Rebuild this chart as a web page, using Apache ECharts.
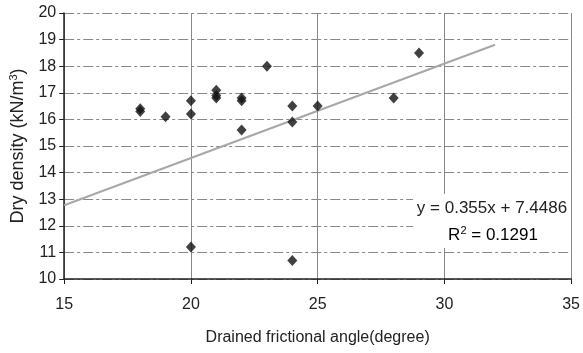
<!DOCTYPE html>
<html>
<head>
<meta charset="utf-8">
<script src="https://cdn.jsdelivr.net/npm/echarts@6/dist/echarts.min.js"></script>
<style>
  html, body { margin: 0; padding: 0; background: #fff; }
  #chart { width: 583px; height: 353px; }
</style>
</head>
<body>
<div id="chart"></div>
<script>
// Drained frictional angle (degree) vs dry density (kN/m3)
const frictionAngle = [18, 18, 19, 20, 20, 20, 21, 21, 21, 22, 22, 22, 23, 24, 24, 24, 25, 28, 29];
const dryDensity   = [16.3, 16.4, 16.1, 16.7, 16.2, 11.2, 17.1, 16.9, 16.8, 16.8, 16.7, 15.6, 18.0, 16.5, 15.9, 10.7, 16.5, 16.8, 18.5];

// Linear trend: y = slope * x + intercept
const slope = 0.355;
const intercept = 7.4486;
const rSquared = 0.1291;
const trendRange = [15, 32];

const xTicks = [15, 20, 25, 30, 35];
const yTicks = [10, 11, 12, 13, 14, 15, 16, 17, 18, 19, 20];

const points = frictionAngle.map((x, i) => [x, dryDensity[i]]);
const trend = trendRange.map(x => [x, slope * x + intercept]);

const font = '"Liberation Sans", Arial, sans-serif';
const chart = echarts.init(document.getElementById('chart'), null, { renderer: 'canvas' });

chart.setOption({
  animation: false,
  backgroundColor: '#ffffff',
  grid: { left: 64, right: 10, top: 13, bottom: 74, containLabel: false },
  xAxis: {
    type: 'value',
    min: xTicks[0], max: xTicks[xTicks.length - 1], interval: 5,
    name: 'Drained frictional angle(degree)',
    nameLocation: 'middle', nameGap: 51,
    nameTextStyle: { fontFamily: font, fontSize: 16, color: '#222' },
    axisLine: { lineStyle: { color: '#222', width: 1.5 } },
    axisTick: { show: true, length: 5, lineStyle: { color: '#222' } },
    axisLabel: { fontFamily: font, fontSize: 16, color: '#222', margin: 18 },
    splitLine: { show: true, lineStyle: { color: '#888', width: 1, type: 'solid' } }
  },
  yAxis: {
    type: 'value',
    min: yTicks[0], max: yTicks[yTicks.length - 1], interval: 1,
    name: '{t|Dry density (kN/m}{sup|3}{t|)}',
    nameLocation: 'middle', nameGap: 35, nameRotate: 90,
    nameTextStyle: {
      rich: {
        t: { fontFamily: font, fontSize: 18, color: '#222' },
        sup: { fontFamily: font, fontSize: 11, color: '#222', verticalAlign: 'bottom', padding: [0, 0, 10, 0] }
      }
    },
    axisLine: { show: true, lineStyle: { color: '#222', width: 1.5 } },
    axisTick: { show: true, length: 5, lineStyle: { color: '#222' } },
    axisLabel: { fontFamily: font, fontSize: 16, color: '#222', margin: 8 },
    splitLine: { show: true, lineStyle: { color: '#888', width: 1, type: [10, 3, 3, 3] } }
  },
  series: [
    {
      type: 'line',
      data: trend,
      symbol: 'none',
      lineStyle: { color: '#a8a8a8', width: 2.2 },
      z: 2
    },
    {
      type: 'scatter',
      data: points,
      symbol: 'diamond',
      symbolSize: [10, 11],
      itemStyle: { color: '#111' },
      z: 3
    }
  ],
  graphic: [
    {
      type: 'rect',
      shape: { x: 413, y: 194, width: 158, height: 54 },
      style: { fill: '#ffffff' },
      z: 10
    },
    {
      type: 'text',
      x: 492, y: 208,
      style: {
        text: 'y = ' + slope + 'x + ' + intercept,
        fontFamily: font, fontSize: 17, fill: '#222',
        align: 'center', verticalAlign: 'middle'
      },
      z: 11
    },
    {
      type: 'text',
      x: 493, y: 235,
      style: {
        text: '{t|R}{sup|2}{t| = ' + rSquared + '}',
        align: 'center', verticalAlign: 'middle',
        rich: {
          t: { fontFamily: font, fontSize: 17, color: '#222' },
          sup: { fontFamily: font, fontSize: 11, color: '#222', verticalAlign: 'bottom', padding: [0, 0, 9, 0] }
        }
      },
      z: 11
    }
  ]
});
</script>
</body>
</html>
